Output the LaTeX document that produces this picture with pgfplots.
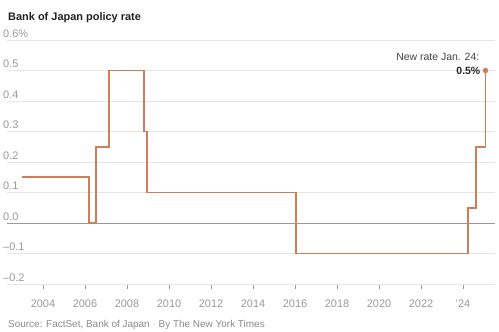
\documentclass[border=0pt]{standalone}
\usepackage{fontspec}
\setmainfont{Liberation Sans}
\usepackage{pgfplots}
\pgfplotsset{compat=1.18}
\definecolor{boj}{HTML}{CF7F57}
\definecolor{lab}{HTML}{999999}
\definecolor{grd}{HTML}{E6E6E6}
\definecolor{zer}{HTML}{9A9A9A}
\definecolor{ttl}{HTML}{222222}
\definecolor{src}{HTML}{8A8A8A}
\begin{document}
\begin{tikzpicture}[x=1bp,y=1bp]
\useasboundingbox (0,0) rectangle (499,331);
\begin{axis}[
  at={(7bp,47bp)}, anchor=south west,
  scale only axis, width=488bp, height=244bp,
  xmin=2002.286, xmax=2025.524, ymin=-0.2, ymax=0.6,
  axis x line*=bottom, axis y line*=left,
  x axis line style={draw=grd, line width=0.8bp},
  y axis line style={draw=none},
  xtick={2004,2006,...,2024},
  xticklabels={2004,2006,2008,2010,2012,2014,2016,2018,2020,2022,’24},
  ytick={-0.2,-0.1,0,0.1,0.2,0.3,0.4,0.5,0.6},
  yticklabels={–0.2,–0.1,0.0,0.1,0.2,0.3,0.4,0.5,0.6\%},
  tick align=outside,
  major tick length=5bp,
  xtick style={draw=lab, line width=0.8bp},
  ytick style={draw=none},
  ymajorgrids, grid style={draw=grd, line width=0.8bp},
  ticklabel style={font=\fontsize{11}{13}\selectfont, text=lab},
  yticklabel style={anchor=base west, inner sep=0pt, xshift=1bp, yshift=3bp},
  xticklabel style={anchor=base, inner sep=0pt, yshift=-18bp},
  clip=false,
]
\addplot[zer, line width=1bp] coordinates {(2002.286,0) (2025.524,0)};
\addplot[draw=boj, line width=1.8bp, mark=none] coordinates {
  (2003.00,0.15) (2006.18,0.15) (2006.18,0.0) (2006.51,0.0) (2006.51,0.25)
  (2007.16,0.25) (2007.16,0.5) (2008.82,0.5) (2008.82,0.3) (2008.97,0.3)
  (2008.97,0.1) (2016.05,0.1) (2016.05,-0.1) (2024.22,-0.1) (2024.22,0.05)
  (2024.60,0.05) (2024.60,0.25) (2025.07,0.25) (2025.07,0.5)
};
\addplot[boj, only marks, mark=*, mark size=2.5bp, mark options={fill=boj, draw=boj}] coordinates {(2025.07,0.5)};
\node[anchor=base east, inner sep=0pt, font=\fontsize{10.5}{12}\selectfont\bfseries, text=ttl] at (axis cs:2025.07,0.5) [xshift=-5bp, yshift=-4bp] {0.5\%};
\node[anchor=base east, inner sep=0pt, font=\fontsize{10.5}{12}\selectfont, text=ttl!85] at (axis cs:2025.07,0.5) [xshift=-6bp, yshift=10bp] {New rate Jan. 24:};
\end{axis}
\node[anchor=base west, inner sep=0pt, font=\fontsize{11}{13}\selectfont\bfseries, text=ttl] at (8,311) {Bank of Japan policy rate};
\node[anchor=base west, inner sep=0pt, font=\fontsize{10}{12}\selectfont, text=src] at (8,4) {Source: FactSet, Bank of Japan \textcolor{grd!70!lab}{·} By The New York Times};
\end{tikzpicture}
\end{document}
